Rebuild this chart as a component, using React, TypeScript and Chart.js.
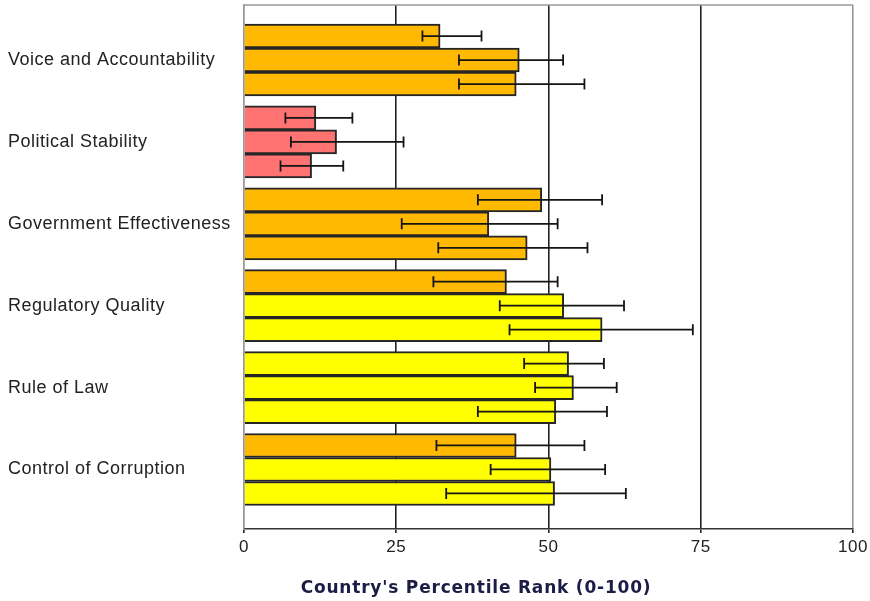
import React, { useEffect, useRef } from "react";
import { Chart, registerables } from "chart.js";

Chart.register(...registerables);

const CATEGORIES = [
  "Voice and Accountability",
  "Political Stability",
  "Government Effectiveness",
  "Regulatory Quality",
  "Rule of Law",
  "Control of Corruption",
];

const X_TICKS = [0, 25, 50, 75, 100];
const X_TITLE = "Country's Percentile Rank (0-100)";

// three bars per indicator (top, middle, bottom)
const TOP_VALUES = [32.2, 11.8, 48.9, 43.1, 53.3, 44.7];
const TOP_LOW = [29.3, 6.8, 38.4, 31.1, 46.0, 31.6];
const TOP_HIGH = [39.0, 17.8, 58.8, 51.5, 59.1, 55.9];

const MID_VALUES = [45.2, 15.2, 40.2, 52.5, 54.1, 50.4];
const MID_LOW = [35.3, 7.7, 25.9, 42.0, 47.8, 40.5];
const MID_HIGH = [52.4, 26.2, 51.5, 62.4, 61.2, 59.3];

const BOT_VALUES = [44.7, 11.1, 46.5, 58.8, 51.2, 51.0];
const BOT_LOW = [35.3, 6.0, 31.9, 43.6, 38.4, 33.2];
const BOT_HIGH = [55.9, 16.3, 56.4, 73.7, 59.6, 62.7];

const SERIES = [
  { values: TOP_VALUES, low: TOP_LOW, high: TOP_HIGH },
  { values: MID_VALUES, low: MID_LOW, high: MID_HIGH },
  { values: BOT_VALUES, low: BOT_LOW, high: BOT_HIGH },
];

function rankColor(v: number): string {
  if (v < 10) return "#E00000";
  if (v < 25) return "#FF7373";
  if (v < 50) return "#FFB900";
  if (v < 75) return "#FFFF00";
  if (v < 90) return "#99FF66";
  return "#00CC00";
}

const LABEL_FONT = "'Liberation Sans', Arial, sans-serif";

const errorBarPlugin = {
  id: "errorBars",
  afterDatasetsDraw(chart: any) {
    const ctx = chart.ctx;
    const xScale = chart.scales.x;
    ctx.save();
    ctx.strokeStyle = "#151515";
    ctx.lineWidth = 1.8;
    SERIES.forEach((s, di) => {
      const meta = chart.getDatasetMeta(di);
      meta.data.forEach((el: any, i: number) => {
        const y = el.y;
        const x1 = xScale.getPixelForValue(s.low[i]);
        const x2 = xScale.getPixelForValue(s.high[i]);
        const cap = 5.5;
        ctx.beginPath();
        ctx.moveTo(x1, y);
        ctx.lineTo(x2, y);
        ctx.moveTo(x1, y - cap);
        ctx.lineTo(x1, y + cap);
        ctx.moveTo(x2, y - cap);
        ctx.lineTo(x2, y + cap);
        ctx.stroke();
      });
    });
    ctx.restore();
  },
};

const framePlugin = {
  id: "frame",
  beforeDraw(chart: any) {
    chart.ctx.letterSpacing = "0.5px";
  },
  afterDraw(chart: any) {
    const ctx = chart.ctx;
    const a = chart.chartArea;
    ctx.save();
    ctx.strokeStyle = "#9a9a9a";
    ctx.lineWidth = 1.5;
    ctx.beginPath();
    ctx.moveTo(a.left, a.top);
    ctx.lineTo(a.right, a.top);
    ctx.stroke();
    // axis title
    ctx.letterSpacing = "0.8px";
    ctx.fillStyle = "#1c1c44";
    ctx.font = "bold 17px 'DejaVu Sans', Verdana, sans-serif";
    ctx.textAlign = "center";
    ctx.textBaseline = "middle";
    const cx = a.left + (a.right - a.left) * 0.381;
    ctx.fillText(X_TITLE, cx, 589);
    ctx.restore();
    ctx.letterSpacing = "0px";
  },
};

export default function App() {
  const ref = useRef<HTMLCanvasElement | null>(null);

  useEffect(() => {
    if (!ref.current) return;
    const datasets = SERIES.map((s, di) => ({
      label: "Series " + (di + 1),
      data: s.values.map((v, i) => ({ x: v, y: i })),
      backgroundColor: s.values.map((v) => rankColor(v)),
      borderColor: "#262626",
      borderWidth: 2,
      barThickness: 24,
    }));

    const chart = new Chart(ref.current, {
      type: "bar",
      data: { datasets },
      options: {
        indexAxis: "y",
        animation: false,
        responsive: false,
        maintainAspectRatio: false,
        layout: { padding: { left: 8, top: 5, right: 17, bottom: 0 } },
        plugins: {
          legend: { display: false },
          tooltip: { enabled: false },
          title: { display: false },
        },
        scales: {
          x: {
            type: "linear",
            min: 0,
            max: 100,
            afterBuildTicks: (scale: any) => {
              scale.ticks = X_TICKS.map((v) => ({ value: v }));
            },
            afterFit: (scale: any) => {
              scale.height = 72;
              scale.paddingLeft = 0;
              scale.paddingRight = 0;
            },
            grid: {
              color: (c: any) =>
                c.tick && (c.tick.value === 0 || c.tick.value === 100) ? "#9a9a9a" : "#222",
              tickColor: "#222",
              lineWidth: 1.6,
              tickLength: 4,
            },
            border: { display: true, color: "#333", width: 1.6 },
            ticks: {
              font: { family: LABEL_FONT, size: 17 },
              color: "#222",
              padding: 4,
              maxRotation: 0,
            },
          },
          y: {
            type: "linear",
            reverse: true,
            offset: false,
            min: -0.672,
            max: 5.727,
            afterBuildTicks: (scale: any) => {
              scale.ticks = CATEGORIES.map((_, i) => ({ value: i }));
            },
            afterFit: (scale: any) => {
              scale.width = 236;
              scale.paddingTop = 0;
              scale.paddingBottom = 0;
            },
            grid: { display: false, offset: false },
            border: { display: true, color: "#9a9a9a", width: 1.5 },
            ticks: {
              crossAlign: "far",
              font: { family: LABEL_FONT, size: 18 },
              color: "#222",
              callback: (v: any) => CATEGORIES[v] ?? "",
            },
          },
        },
      } as any,
      plugins: [errorBarPlugin, framePlugin],
    });
    return () => chart.destroy();
  }, []);

  return (
    <div style={{ position: "absolute", left: 0, top: 0, width: 870, height: 601, background: "#fff" }}>
      <canvas ref={ref} width={870} height={601} style={{ width: 870, height: 601 }} />
    </div>
  );
}
